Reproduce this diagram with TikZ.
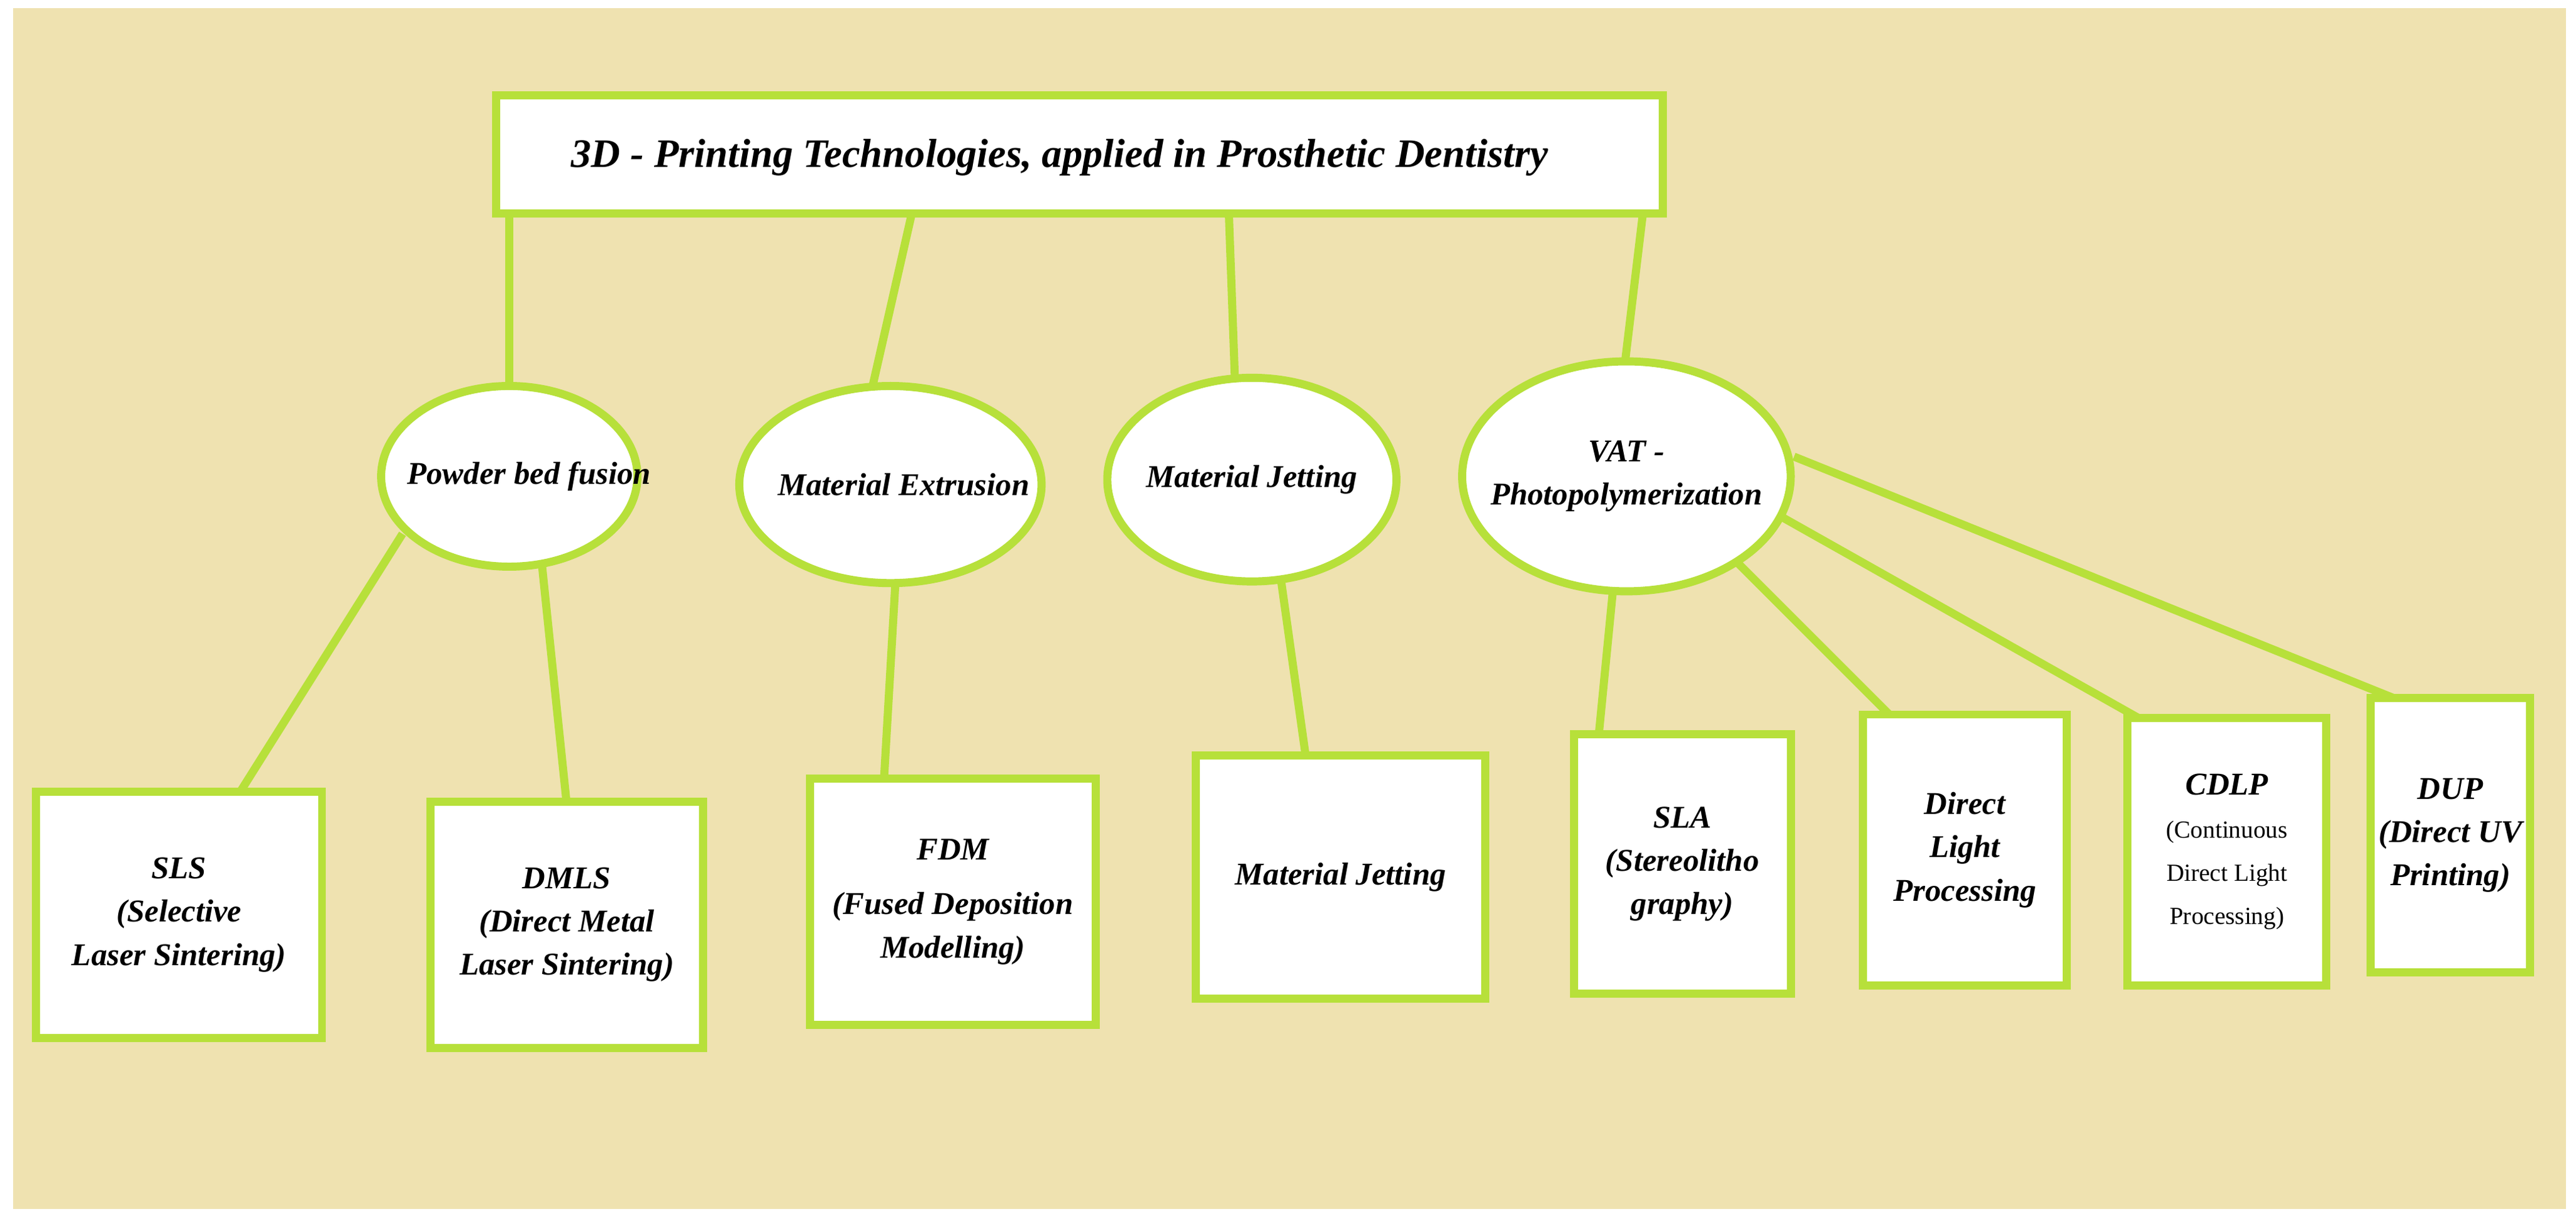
\documentclass[tikz,border=0pt]{standalone}
\usepackage{fontspec}
\setmainfont{Liberation Serif}
\usetikzlibrary{shapes.geometric,calc}
\definecolor{bg}{HTML}{EFE2B0}
\definecolor{gr}{HTML}{B7E03A}
\begin{document}
\begin{tikzpicture}[x=0.02cm,y=-0.02cm,
  tx/.style={align=center,font=\fontsize{11}{15}\selectfont\bfseries\itshape},
  ln/.style={gr,line width=2.8pt}]
\useasboundingbox (0,0) rectangle (1568,742);
\fill[bg] (8,5) rectangle (1562,736);
% connectors
\draw[ln] (310,130) -- (310,240);
\draw[ln] (555,130) -- (530,240);
\draw[ln] (748,130) -- (752,240);
\draw[ln] (1000,130) -- (988,230);
\draw[ln] (245,325) -- (145,484);
\draw[ln] (330,345) -- (345,490);
\draw[ln] (545,355) -- (538,476);
\draw[ln] (780,355) -- (795,462);
\draw[ln] (982,357) -- (973,449);
\draw[ln] (1057,342) -- (1152,437);
\draw[ln] (1085,315) -- (1305,439);
\draw[ln] (1092,278) -- (1462,427);
% top box
\draw[gr,line width=2.8pt,fill=white] (302,58) rectangle (1012,130);
\node[font=\fontsize{14}{17}\selectfont\bfseries\itshape] (title) at (645,96) {3D - Printing Technologies, applied in Prosthetic Dentistry};
% ellipses
\draw[gr,line width=2.8pt,fill=white] (310,290) ellipse [x radius=78,y radius=55];
\node[tx] (e1) at (322,290) {Powder bed fusion};
\draw[gr,line width=2.8pt,fill=white] (542,295) ellipse [x radius=92,y radius=60];
\node[tx] (e2) at (550,295) {Material Extrusion};
\draw[gr,line width=2.8pt,fill=white] (762,292) ellipse [x radius=88,y radius=62];
\node[tx] (e3) at (762,292) {Material Jetting};
\draw[gr,line width=2.8pt,fill=white] (990,290) ellipse [x radius=100,y radius=70];
\node[tx] (e4) at (990,290) {VAT -\\Photopolymerization};
% boxes
\newcommand{\bxx}[6]{\draw[gr,line width=2.8pt,fill=white] (#1,#2) rectangle (#3,#4);
  \node[tx] (#5) at ({(#1+#3)/2},{(#2+#4)/2}) {#6};}
\bxx{22}{482}{196}{632}{b1}{SLS\\(Selective\\Laser Sintering)}
\bxx{262}{488}{428}{638}{b2}{DMLS\\(Direct Metal\\Laser Sintering)}
\bxx{493}{474}{667}{624}{b3}{FDM\\[4pt](Fused Deposition\\Modelling)}
\bxx{728}{460}{904}{608}{b4}{Material Jetting}
\bxx{958}{447}{1090}{605}{b5}{SLA\\(Stereolitho\\graphy)}
\bxx{1134}{435}{1258}{600}{b6}{Direct\\Light\\Processing}
\bxx{1295}{437}{1416}{600}{b7}{CDLP\\{\fontsize{8.5}{13}\selectfont\mdseries\upshape(Continuous}\\{\fontsize{8.5}{13}\selectfont\mdseries\upshape Direct Light}\\{\fontsize{8.5}{13}\selectfont\mdseries\upshape Processing)}}
\bxx{1443}{425}{1540}{592}{b8}{DUP\\(Direct UV\\Printing)}
\end{tikzpicture}
\end{document}
